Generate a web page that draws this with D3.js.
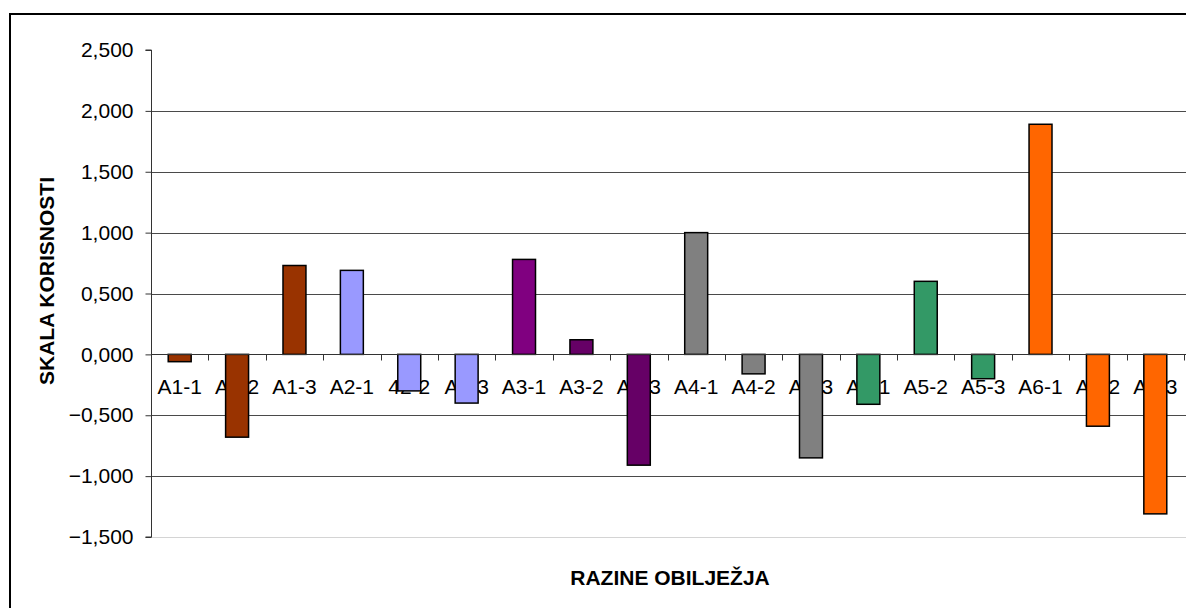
<!DOCTYPE html>
<html>
<head>
<meta charset="utf-8">
<script src="https://cdn.jsdelivr.net/npm/d3@7"></script>
<style>
  body { margin: 0; background: #fff; }
  text { font-family: Arial, "Liberation Sans", sans-serif; }
</style>
</head>
<body>
<div id="canvas"></div>
<script>
// Data
const categories = ["A1-1", "A1-2", "A1-3", "A2-1", "42-2", "A2-3", "A3-1", "A3-2", "A3-3",
  "A4-1", "A4-2", "A4-3", "A5-1", "A5-2", "A5-3", "A6-1", "A6-2", "A6-3"];
const values = [-0.06, -0.68, 0.73, 0.69, -0.30, -0.40, 0.78, 0.12, -0.91,
  1.00, -0.16, -0.85, -0.41, 0.60, -0.20, 1.89, -0.59, -1.31];
const yTicks = [-1.5, -1.0, -0.5, 0, 0.5, 1.0, 1.5, 2.0, 2.5];
const barColors = ["#993300", "#993300", "#993300", "#9999FF", "#9999FF", "#9999FF",
  "#800080", "#660066", "#660066", "#808080", "#808080", "#808080",
  "#339966", "#339966", "#339966", "#FF6600", "#FF6600", "#FF6600"];

// Constants
const w = 1186;
const h = 608;
const plot = { left: 151, right: 1184, top: 50, bottom: 537 };

const xScale = d3.scaleBand().domain(categories).range([plot.left, plot.right]).paddingInner(0.6).paddingOuter(0.3);
const slot = d3.scaleBand().domain(categories).range([plot.left, plot.right]);
const yScale = d3.scaleLinear().domain([-1.5, 2.5]).range([plot.bottom, plot.top]);
const fmt = v => d3.format(".3f")(v).replace(".", ",");

const svg = d3.select("#canvas").append("svg")
  .attr("width", w)
  .attr("height", h);

// outer frame
svg.append("rect")
  .attr("x", 10).attr("y", 14)
  .attr("width", 1200).attr("height", 620)
  .attr("fill", "white")
  .attr("stroke", "black")
  .attr("stroke-width", 2);

// gridlines
svg.append("g").selectAll("line")
  .data(yTicks.filter(t => t !== 2.5 && t !== 0))
  .join("line")
  .attr("x1", plot.left).attr("x2", w)
  .attr("y1", d => Math.round(yScale(d)) + 0.5)
  .attr("y2", d => Math.round(yScale(d)) + 0.5)
  .attr("stroke", d => d === -1.5 ? "#d4d4d4" : "#4a4a4a")
  .attr("stroke-width", 1);

// y axis
const yAxis = d3.axisLeft(yScale).tickValues(yTicks).tickSize(6).tickPadding(12).tickFormat(fmt);
const yg = svg.append("g")
  .attr("transform", `translate(${plot.left + 0.5},0)`)
  .call(yAxis);
yg.select(".domain").attr("stroke", "#333").attr("d", `M-6,${plot.top}H0V${plot.bottom}H-6`);
yg.selectAll(".tick line").attr("stroke", "#333");
yg.selectAll(".tick text")
  .attr("fill", "black")
  .style("font-family", "Arial, 'Liberation Sans', sans-serif")
  .style("font-size", "21px");

// category labels (under bars)
svg.append("g").selectAll("text")
  .data(categories)
  .join("text")
  .attr("x", d => slot(d) + slot.bandwidth() / 2)
  .attr("y", yScale(0) + 40)
  .attr("text-anchor", "middle")
  .style("font-size", "21px")
  .attr("fill", "black")
  .text(d => d);

// bars
svg.append("g").selectAll("rect")
  .data(values)
  .join("rect")
  .attr("x", (d, i) => xScale(categories[i]))
  .attr("y", d => yScale(Math.max(0, d)))
  .attr("width", xScale.bandwidth())
  .attr("height", d => Math.abs(yScale(d) - yScale(0)))
  .attr("fill", (d, i) => barColors[i])
  .attr("stroke", "black")
  .attr("stroke-width", 1.5);

// x axis at zero with tick marks between categories
const x0 = Math.round(yScale(0)) + 0.5;
svg.append("line")
  .attr("x1", plot.left).attr("x2", w)
  .attr("y1", x0).attr("y2", x0)
  .attr("stroke", "#333");
svg.append("g").selectAll("line")
  .data(categories)
  .join("line")
  .attr("x1", d => Math.round(slot(d) + slot.bandwidth()) + 0.5)
  .attr("x2", d => Math.round(slot(d) + slot.bandwidth()) + 0.5)
  .attr("y1", x0).attr("y2", x0 + 6)
  .attr("stroke", "#333");

// axis titles
svg.append("text")
  .attr("transform", `translate(54,281) rotate(-90)`)
  .attr("text-anchor", "middle")
  .style("font-size", "21px")
  .style("font-weight", "bold")
  .text("SKALA KORISNOSTI");

svg.append("text")
  .attr("x", 670)
  .attr("y", 585)
  .attr("text-anchor", "middle")
  .style("font-size", "21px")
  .style("font-weight", "bold")
  .text("RAZINE OBILJEŽJA");
</script>
</body>
</html>
